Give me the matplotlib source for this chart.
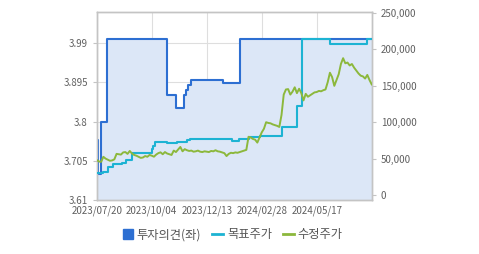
import numpy as np
import matplotlib.pyplot as plt
from matplotlib.lines import Line2D

plt.rcParams['font.family'] = ['Noto Sans CJK KR', 'DejaVu Sans']

# trading-day index 0..250
n_days = 251
tick_pos = [0, 50, 100, 150, 200]
tick_labels = ['2023/07/20', '2023/10/04', '2023/12/13', '2024/02/28', '2024/05/17']

# 투자의견 (left axis): step change points
opinion_start = [0, 1, 4, 9, 64, 72, 79, 81, 83, 86, 115, 130]
opinion_value = [3.755, 3.673, 3.8, 4.0, 3.864, 3.832, 3.864, 3.876, 3.888, 3.902, 3.893, 4.0]

# 목표주가 (right axis): step change points
target_start = [0, 6, 10, 15, 23, 27, 32, 50, 51, 53, 64, 73, 82, 85, 123, 129, 138, 148, 168, 182, 187, 212, 246]
target_value = [30000, 32000, 38500, 42500, 44000, 48000, 58000, 63000, 68000, 73500, 71000, 73200,
                75500, 77000, 74500, 77000, 79000, 81000, 93800, 122000, 214000, 207500, 214000]

# 수정주가 (right axis), every 2nd trading day
price_x = list(range(0, 251, 2))
price = [48000, 46000, 45500, 52500, 50000, 48500, 47000, 47500, 49000, 56500,
         56000, 55500, 58500, 59000, 56500, 60500, 57000, 55000, 54000, 52500,
         51000, 51500, 53500, 52500, 55000, 54000, 52600, 55500, 57500, 58600,
         56000, 59000, 57000, 56000, 55000, 61000, 59000, 62500, 66000, 60000,
         63000, 61500, 60500, 61000, 59500, 60000, 61000, 59500, 59000, 60000,
         59500, 59000, 60500, 60000, 61500, 60000, 59500, 58500, 57500, 53500,
         56500, 58000, 57500, 58500, 58000, 59000, 60000, 61000, 62000, 80000,
         79000, 77000, 76000, 72000, 79000, 86000, 91000, 100000, 99000, 98500,
         97000, 96000, 95000, 93500, 110000, 138000, 145000, 145500, 138000, 142000,
         148000, 140000, 146000, 140000, 130000, 139000, 135000, 137000, 139000, 141000,
         141500, 143000, 142500, 144000, 145000, 155000, 168000, 162000, 150000, 158000,
         166000, 180000, 188000, 181000, 182000, 178000, 180000, 175000, 171000, 167000,
         164000, 163000, 160000, 165000, 158000, 152000]


def expand_steps(starts, values, n):
    out = np.empty(n)
    bounds = list(starts) + [n]
    for k, v in enumerate(values):
        out[bounds[k]:bounds[k + 1]] = v
    return out


x = np.arange(n_days)
opinion = expand_steps(opinion_start, opinion_value, n_days)
target = expand_steps(target_start, target_value, n_days)

c_blue = '#2d6fd2'
c_cyan = '#1db3d3'
c_green = '#8cb83c'
c_fill = '#dce7f7'
c_grid = '#dedede'
c_spine = '#c4c4c4'
c_text = '#606060'

fig = plt.figure(figsize=(4.79, 2.54), dpi=100)
ax = fig.add_axes([0.202, 0.2126, 0.574, 0.7402])
ax2 = ax.twinx()

ax.fill_between(x, opinion, 3.61, step='post', color=c_fill, lw=0, zorder=1)
ax.step(x, opinion, where='post', color=c_blue, lw=1.5, zorder=3)

ax2.step(x, target, where='post', color=c_cyan, lw=1.5, zorder=3)
ax2.plot(price_x, price, color=c_green, lw=1.4, zorder=4)

ax.set_xlim(0, 250)
ax.set_ylim(3.61, 4.066)
ax2.set_ylim(-6900, 251500)

ax.set_yticks([3.61, 3.705, 3.8, 3.895, 3.99])
ax.set_yticklabels(['3.61', '3.705', '3.8', '3.895', '3.99'])
ax2.set_yticks([0, 50000, 100000, 150000, 200000, 250000])
ax2.set_yticklabels(['0', '50,000', '100,000', '150,000', '200,000', '250,000'])
ax.set_xticks(tick_pos)
ax.set_xticklabels(tick_labels)

ax.grid(True, color=c_grid, lw=0.8, zorder=0)
ax.set_axisbelow(True)

for a in (ax, ax2):
    for s in a.spines.values():
        s.set_color(c_spine)
        s.set_linewidth(1.0)
    a.tick_params(labelsize=7, colors=c_text, length=3, width=0.8)
    a.tick_params(axis='y', color=c_spine)
ax.tick_params(axis='x', length=0, pad=4)
ax2.patch.set_visible(False)

handles = [
    Line2D([], [], marker='s', ls='none', color=c_blue, markersize=7.5),
    Line2D([], [], color=c_cyan, lw=2),
    Line2D([], [], color=c_green, lw=2),
]
fig.legend(handles, ['투자의견(좌)', '목표주가', '수정주가'], loc='center',
           bbox_to_anchor=(0.485, 0.075), ncol=3, frameon=False, fontsize=8.8,
           handlelength=0.9, handletextpad=0.3, columnspacing=0.9, labelcolor='#555555')

fig.savefig('out.png', dpi=100)
